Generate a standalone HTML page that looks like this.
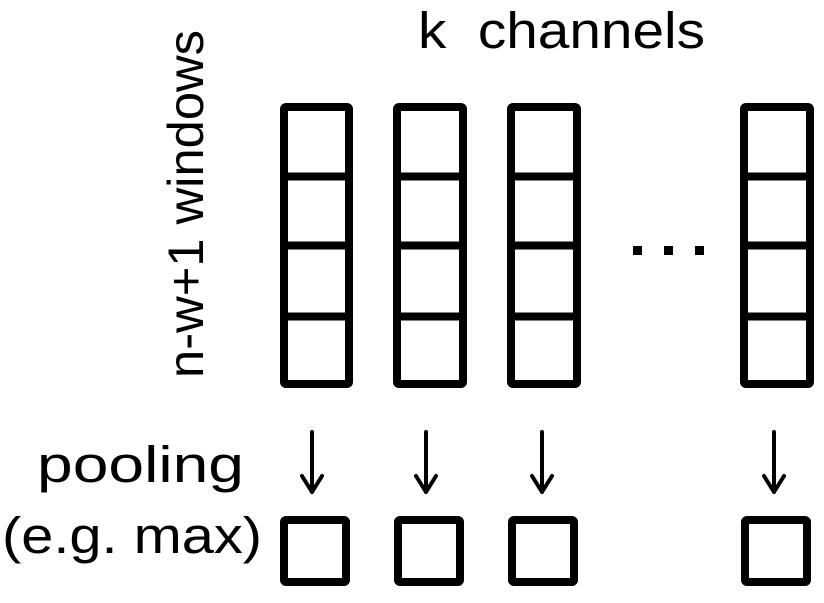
<!DOCTYPE html>
<html><head><style>
body{margin:0;width:824px;height:598px;background:#fff;overflow:hidden;font-family:"Liberation Sans",sans-serif}
</style></head><body>
<svg width="824" height="598" xmlns="http://www.w3.org/2000/svg">
<g font-family="Liberation Sans, sans-serif" fill="#000">
<text x="418" y="48" font-size="51" textLength="287" lengthAdjust="spacingAndGlyphs" xml:space="preserve">k  channels</text>
<text transform="translate(203,378) rotate(-90)" font-size="50" textLength="348" lengthAdjust="spacingAndGlyphs">n-w+1 windows</text>
<text x="37" y="482" font-size="51" textLength="207" lengthAdjust="spacingAndGlyphs">pooling</text>
<text x="2" y="553" font-size="51" textLength="260" lengthAdjust="spacingAndGlyphs">(e.g. max)</text>
</g>
<g fill="none" stroke="#000" stroke-width="8" stroke-linejoin="round">
<rect x="284" y="107" width="65" height="277" rx="2"/>
<path d="M283 176.5H350M283 245.5H350M283 316.5H350"/>
<rect x="397" y="107" width="66" height="277" rx="2"/>
<path d="M396 176.5H464M396 245.5H464M396 316.5H464"/>
<rect x="511" y="107" width="66" height="277" rx="2"/>
<path d="M510 176.5H578M510 245.5H578M510 316.5H578"/>
<rect x="744" y="107" width="66" height="277" rx="2"/>
<path d="M743 176.5H811M743 245.5H811M743 316.5H811"/>
<rect x="284" y="520" width="62" height="62" rx="2"/>
<rect x="398" y="520" width="62" height="62" rx="2"/>
<rect x="512" y="520" width="62" height="62" rx="2"/>
<rect x="745" y="520" width="62" height="62" rx="2"/>
</g>
<g fill="#000"><rect x="633" y="246" width="9" height="9"/><rect x="664" y="246" width="9" height="9"/><rect x="695" y="246" width="9" height="9"/></g>
<g fill="none" stroke="#000" stroke-width="4" stroke-linecap="round" stroke-linejoin="round">
<path d="M312 432V492M302 476L312 492L322 476"/>
<path d="M426 432V492M416 476L426 492L436 476"/>
<path d="M542 432V492M532 476L542 492L552 476"/>
<path d="M774 432V492M764 476L774 492L784 476"/>
</g>
</svg>
</body></html>
